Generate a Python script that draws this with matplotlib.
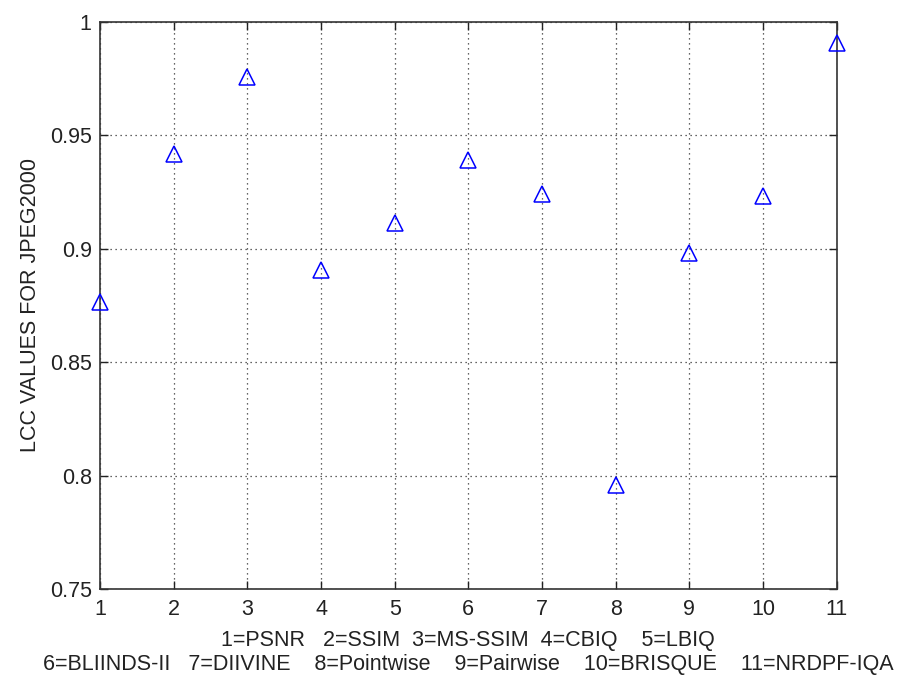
import matplotlib
matplotlib.use("Agg")
import matplotlib.pyplot as plt

plt.rcParams['font.family'] = ['Liberation Sans', 'DejaVu Sans']

# LCC per method index
methods = [1, 2, 3, 4, 5, 6, 7, 8, 9, 10, 11]
lcc = [0.8767, 0.9417, 0.9758, 0.8908, 0.9113, 0.9390, 0.9240, 0.7958, 0.8980, 0.9234, 0.9905]

yticks = [0.75, 0.8, 0.85, 0.9, 0.95, 1.0]
ytick_labels = ['0.75', '0.8', '0.85', '0.9', '0.95', '1']
xlabel_text = ("1=PSNR   2=SSIM  3=MS-SSIM  4=CBIQ    5=LBIQ\n"
               "6=BLIINDS-II   7=DIIVINE    8=Pointwise    9=Pairwise    10=BRISQUE    11=NRDPF-IQA")
ylabel_text = "LCC VALUES FOR JPEG2000"

fig = plt.figure(figsize=(9.01, 6.8), dpi=100)
ax = fig.add_axes([0.111, 0.1334, 0.8176, 0.8347])

ax.plot(methods, lcc, linestyle='none', marker='^', markersize=11,
        markerfacecolor='none', markeredgecolor='#0000ff', markeredgewidth=1.1,
        clip_on=False, zorder=5)

ax.set_xlim(1, 11)
ax.set_ylim(0.75, 1.0)
ax.set_xticks(methods)
ax.set_xticklabels([str(m) for m in methods])
ax.set_yticks(yticks)
ax.set_yticklabels(ytick_labels)

ax.grid(True, linestyle=(0, (1, 3)), color='#333333', linewidth=0.9)
ax.tick_params(direction='in', length=6, width=1, top=True, right=True,
               labelsize=15.5, colors='#222222')
ax.tick_params(axis='x', pad=7)
ax.tick_params(axis='y', pad=6)
for s in ax.spines.values():
    s.set_color('#333333')
    s.set_linewidth(1.2)

ax.set_ylabel(ylabel_text, fontsize=15.5, color='#222222', labelpad=6)
ax.set_xlabel(xlabel_text, fontsize=15.5, color='#222222', labelpad=7,
              multialignment='center', linespacing=1.2)

fig.savefig('out.png', dpi=100)
